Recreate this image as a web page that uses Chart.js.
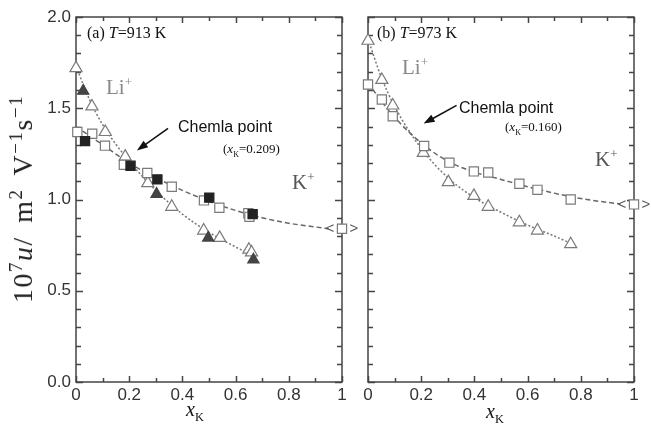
<!DOCTYPE html>
<html>
<head>
<meta charset="utf-8">
<script src="https://cdn.jsdelivr.net/npm/chart.js@4"></script>
<style>
body { margin: 0; background: #fff; width: 651px; height: 424px; position: relative; overflow: hidden; font-family: "Liberation Serif", serif; }
canvas { position: absolute; top: 0; }
.t { position: absolute; white-space: nowrap; line-height: 1; color: #111; }
.sans { font-family: "Liberation Sans", Arial, sans-serif; }
sup, sub { font-size: 62%; line-height: 0; }
.yt { letter-spacing: 1.5px; word-spacing: 5px; color: #222; }
.yt sup { font-size: 68%; }
</style>
</head>
<body>
<canvas id="chart-a" width="364" height="424" style="left:0"></canvas>
<canvas id="chart-b" width="296" height="424" style="left:355px"></canvas>

<div class="t yt" style="left:23px;top:199px;font-size:28px;transform:translate(-50%,-50%) rotate(-90deg);transform-origin:50% 50%">10<sup>7</sup><i>u</i>/ m<sup>2</sup> V<sup>&minus;1</sup>s<sup>&minus;1</sup></div>

<div class="t" style="left:87px;top:25px;font-size:16px">(a) <i>T</i>=913 K</div>
<div class="t" style="left:106px;top:77px;font-size:21px;color:#888">Li<sup>+</sup></div>
<div class="t sans" style="left:178px;top:119px;font-size:16px">Chemla point</div>
<div class="t" style="left:223px;top:142px;font-size:13px">(<i>x</i><sub>K</sub>=0.209)</div>
<div class="t" style="left:292px;top:172px;font-size:21px;color:#555">K<sup>+</sup></div>
<div class="t" style="left:186px;top:399px;font-size:20px"><i>x</i><sub>K</sub></div>

<div class="t" style="left:377px;top:25px;font-size:16px">(b) <i>T</i>=973 K</div>
<div class="t" style="left:402px;top:57px;font-size:21px;color:#888">Li<sup>+</sup></div>
<div class="t sans" style="left:459px;top:100px;font-size:16px">Chemla point</div>
<div class="t" style="left:505px;top:120px;font-size:13px">(<i>x</i><sub>K</sub>=0.160)</div>
<div class="t" style="left:595px;top:149px;font-size:21px;color:#555">K<sup>+</sup></div>
<div class="t" style="left:486px;top:401px;font-size:20px"><i>x</i><sub>K</sub></div>

<script>
// (a) T = 913 K
const aLiOpenX = [0, 0.06, 0.11, 0.185, 0.27, 0.36, 0.48, 0.54, 0.65, 0.66];
const aLiOpenY = [1.72, 1.51, 1.37, 1.235, 1.09, 0.96, 0.83, 0.79, 0.725, 0.71];
const aLiFillX = [0.027, 0.303, 0.497, 0.667];
const aLiFillY = [1.595, 1.03, 0.79, 0.67];
const aKOpenX = [0.005, 0.061, 0.109, 0.18, 0.268, 0.36, 0.481, 0.539, 0.648, 0.652, 1.0];
const aKOpenY = [1.37, 1.36, 1.295, 1.19, 1.145, 1.07, 0.995, 0.955, 0.925, 0.905, 0.84];
const aKFillX = [0.034, 0.205, 0.306, 0.501, 0.664];
const aKFillY = [1.32, 1.185, 1.11, 1.01, 0.92];
const aKCurveX = [0, 0.05, 0.1, 0.2, 0.3, 0.4, 0.5, 0.6, 0.7, 0.8, 0.95];
const aKCurveY = [1.40, 1.35, 1.30, 1.20, 1.12, 1.05, 0.99, 0.94, 0.90, 0.87, 0.84];
const aLiCurveX = [0, 0.05, 0.1, 0.2, 0.3, 0.4, 0.5, 0.6, 0.67];
const aLiCurveY = [1.73, 1.55, 1.41, 1.21, 1.05, 0.92, 0.82, 0.74, 0.69];

// (b) T = 973 K
const bLiX = [0, 0.052, 0.093, 0.208, 0.302, 0.398, 0.452, 0.569, 0.637, 0.762];
const bLiY = [1.87, 1.655, 1.515, 1.255, 1.095, 1.02, 0.96, 0.875, 0.83, 0.755];
const bKX = [0, 0.052, 0.093, 0.211, 0.306, 0.398, 0.452, 0.569, 0.637, 0.762, 1.0];
const bKY = [1.63, 1.548, 1.456, 1.293, 1.202, 1.154, 1.148, 1.086, 1.053, 1.0, 0.973];
const bKCurveX = [0, 0.05, 0.1, 0.2, 0.3, 0.4, 0.5, 0.6, 0.7, 0.8, 0.95];
const bKCurveY = [1.64, 1.54, 1.45, 1.31, 1.21, 1.15, 1.11, 1.07, 1.035, 1.005, 0.975];
const bLiCurveX = [0, 0.05, 0.1, 0.2, 0.3, 0.4, 0.5, 0.6, 0.7, 0.77];
const bLiCurveY = [1.88, 1.67, 1.51, 1.28, 1.12, 1.01, 0.93, 0.86, 0.80, 0.755];

// arrows [x0, y0, x1, y1] and the x=1 pure-salt points
const aArrow = [0.346, 1.39, 0.229, 1.269];
const bArrow = [0.333, 1.516, 0.209, 1.416];
const aPure = [1.0, 0.84];
const bPure = [1.0, 0.973];

const pts = (xs, ys) => xs.map((x, i) => ({ x: x, y: ys[i] }));

function markers(xs, ys, style, fill, stroke, r) {
    return {
        data: pts(xs, ys), pointStyle: style, pointRadius: r,
        pointBackgroundColor: fill, pointBorderColor: stroke, pointBorderWidth: 1.2,
        showLine: false, clip: false, order: 1
    };
}

function curve(xs, ys, dash, color) {
    return {
        data: pts(xs, ys), showLine: true, pointRadius: 0, borderColor: color,
        borderWidth: 1.5, borderDash: dash, tension: 0.4, cubicInterpolationMode: 'monotone',
        fill: false, clip: false, order: 10
    };
}

// frame, inward ticks, arrow and < > marks
function decorPlugin(arrow, pure) {
    return {
        id: 'decor',
        beforeDatasetsDraw(chart) {
            const ctx = chart.ctx, a = chart.chartArea;
            const xs = chart.scales.x, ys = chart.scales.y;
            ctx.save();
            ctx.strokeStyle = '#444';
            ctx.lineWidth = 1.5;
            ctx.beginPath();
            xs.ticks.forEach(t => {
                const p = Math.round(xs.getPixelForValue(t.value)) + 0.5;
                const len = Math.round(t.value * 10) % 2 === 0 ? 6 : 4;
                ctx.moveTo(p, a.bottom); ctx.lineTo(p, a.bottom - len);
                ctx.moveTo(p, a.top); ctx.lineTo(p, a.top + len);
            });
            ys.ticks.forEach(t => {
                const p = Math.round(ys.getPixelForValue(t.value)) + 0.5;
                const len = Math.round(t.value * 10) % 5 === 0 ? 7 : 5;
                ctx.moveTo(a.left, p); ctx.lineTo(a.left + len, p);
                ctx.moveTo(a.right, p); ctx.lineTo(a.right - len, p);
            });
            ctx.stroke();
            ctx.strokeRect(a.left, a.top, a.right - a.left, a.bottom - a.top);
            ctx.restore();
        },
        afterDatasetsDraw(chart) {
            const ctx = chart.ctx;
            const xs = chart.scales.x, ys = chart.scales.y;
            ctx.save();
            // arrow
            const x0 = xs.getPixelForValue(arrow[0]), y0 = ys.getPixelForValue(arrow[1]);
            const x1 = xs.getPixelForValue(arrow[2]), y1 = ys.getPixelForValue(arrow[3]);
            const ang = Math.atan2(y1 - y0, x1 - x0);
            ctx.strokeStyle = '#111';
            ctx.fillStyle = '#111';
            ctx.lineWidth = 1.6;
            ctx.beginPath();
            ctx.moveTo(x0, y0);
            ctx.lineTo(x1 - 8 * Math.cos(ang), y1 - 8 * Math.sin(ang));
            ctx.stroke();
            ctx.beginPath();
            ctx.moveTo(x1, y1);
            ctx.lineTo(x1 - 11 * Math.cos(ang) + 4 * Math.sin(ang), y1 - 11 * Math.sin(ang) - 4 * Math.cos(ang));
            ctx.lineTo(x1 - 11 * Math.cos(ang) - 4 * Math.sin(ang), y1 - 11 * Math.sin(ang) + 4 * Math.cos(ang));
            ctx.closePath();
            ctx.fill();
            // < > around pure K point
            const px = xs.getPixelForValue(pure[0]), py = ys.getPixelForValue(pure[1]);
            ctx.fillStyle = '#555';
            ctx.font = '15px "Liberation Sans", Arial, sans-serif';
            ctx.textBaseline = 'middle';
            ctx.textAlign = 'center';
            ctx.fillText('<', px - 12, py);
            ctx.fillText('>', px + 12, py);
            ctx.restore();
        }
    };
}

function makeOptions(yWidth, padRight, showY) {
    return {
        responsive: false,
        animation: false,
        layout: { padding: { top: 17, right: padRight, left: 0, bottom: 0 } },
        plugins: { legend: { display: false }, tooltip: { enabled: false } },
        scales: {
            x: {
                type: 'linear', min: 0, max: 1,
                grid: { display: false, drawTicks: false },
                border: { display: false },
                ticks: {
                    stepSize: 0.1, autoSkip: false, maxRotation: 0, padding: 3,
                    color: '#333', font: { family: 'Liberation Sans', size: 17 },
                    callback: v => {
                        const k = Math.round(v * 10);
                        if (k % 2 !== 0) return '';
                        return k === 0 ? '0' : k === 10 ? '1' : (k / 10).toFixed(1);
                    }
                },
                afterFit: s => { s.height = 42; }
            },
            y: {
                type: 'linear', min: 0, max: 2,
                grid: { display: false, drawTicks: false },
                border: { display: false },
                ticks: {
                    stepSize: 0.1, autoSkip: false, padding: 5,
                    color: '#333', font: { family: 'Liberation Sans', size: 17 },
                    callback: v => (showY && Math.round(v * 10) % 5 === 0) ? v.toFixed(1) : ''
                },
                afterFit: s => { s.width = yWidth; }
            }
        }
    };
}

const openGrey = '#7a7a7a';

new Chart(document.getElementById('chart-a'), {
    type: 'scatter',
    data: {
        datasets: [
            markers(aKFillX, aKFillY, 'rect', '#222', '#222', 6.5),
            markers(aLiFillX, aLiFillY, 'triangle', '#444', '#444', 6.5),
            markers(aKOpenX, aKOpenY, 'rect', '#fff', openGrey, 6.5),
            markers(aLiOpenX, aLiOpenY, 'triangle', '#fff', openGrey, 7),
            curve(aKCurveX, aKCurveY, [5, 3], '#666'),
            curve(aLiCurveX, aLiCurveY, [2, 2], '#777')
        ]
    },
    options: makeOptions(76, 22, true),
    plugins: [decorPlugin(aArrow, aPure)]
});

new Chart(document.getElementById('chart-b'), {
    type: 'scatter',
    data: {
        datasets: [
            markers(bKX, bKY, 'rect', '#fff', openGrey, 6.5),
            markers(bLiX, bLiY, 'triangle', '#fff', openGrey, 7),
            curve(bKCurveX, bKCurveY, [5, 3], '#666'),
            curve(bLiCurveX, bLiCurveY, [2, 2], '#777')
        ]
    },
    options: makeOptions(13, 17, false),
    plugins: [decorPlugin(bArrow, bPure)]
});
</script>
</body>
</html>
